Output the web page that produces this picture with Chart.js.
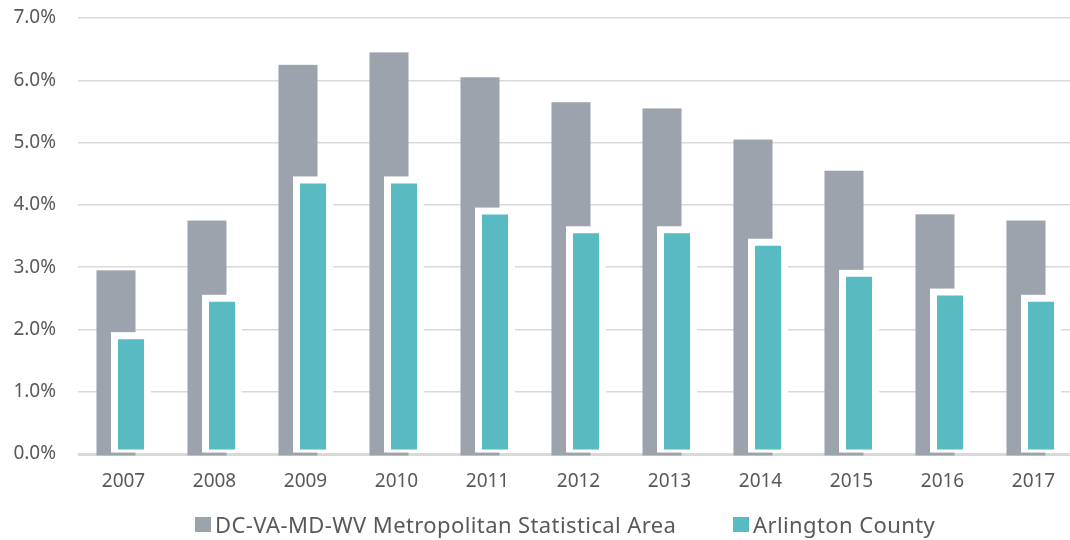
<!DOCTYPE html>
<html>
<head>
<meta charset="utf-8">
<script src="https://cdn.jsdelivr.net/npm/chart.js@4"></script>
<style>
  html, body { margin: 0; padding: 0; background: #fff; overflow: hidden; }
  #wrap { position: relative; width: 1070px; height: 540px; overflow: hidden; }
  #chart { position: absolute; left: 0; top: 0; }
  .legend-item { position: absolute; top: 509px; display: flex; align-items: center;
    font-family: "Noto Sans", sans-serif; font-size: 22px; letter-spacing: 0.4px; color: #595959; white-space: nowrap; }
  .legend-box { width: 16px; height: 15px; margin-right: 4px; }
</style>
</head>
<body>
<div id="wrap">
  <canvas id="chart" width="1080" height="540"></canvas>
  <div id="legend"></div>
</div>
<script>
// categories
let years = ['2007', '2008', '2009', '2010', '2011', '2012', '2013', '2014', '2015', '2016', '2017'];

// series values (percent)
let metroRate = [2.9, 3.7, 6.2, 6.4, 6.0, 5.6, 5.5, 5.0, 4.5, 3.8, 3.7];
let arlingtonRate = [1.9, 2.5, 4.4, 4.4, 3.9, 3.6, 3.6, 3.4, 2.9, 2.6, 2.5];

let seriesNames = ['DC-VA-MD-WV Metropolitan Statistical Area', 'Arlington County'];
let seriesColors = ['#9da3ad', '#58bbc1'];

// y tick range
let yMin = 0;
let yMax = 7;
let yStep = 1;

// Draw the datasets in index order, each with an outline drawn around its bars first
const barOutline = {
    id: 'barOutline',
    beforeDatasetsDraw(chart) {
        let ctx = chart.ctx;
        chart.data.datasets.forEach((ds, i) => {
            let meta = chart.getDatasetMeta(i);
            if (meta.hidden) return;
            let pad = ds.outlineWidth || 0;
            ctx.save();
            ctx.fillStyle = ds.outlineColor;
            meta.data.forEach(bar => {
                let p = bar.getProps(['x', 'y', 'base', 'width'], true);
                let below = ds.outlineBelow ? pad : 0;
                ctx.fillRect(p.x - p.width / 2 - pad, p.y - pad, p.width + pad * 2, p.base - p.y + pad + below);
            });
            ctx.restore();
            meta.controller.draw();
        });
        return false;
    }
};

let ctx = document.getElementById('chart').getContext('2d');
new Chart(ctx, {
    type: 'bar',
    data: {
        labels: years,
        datasets: [{
            label: seriesNames[0],
            data: metroRate,
            backgroundColor: seriesColors[0],
            borderWidth: 0,
            outlineColor: seriesColors[0],
            outlineWidth: 3,
            outlineBelow: true
        }, {
            label: seriesNames[1],
            data: arlingtonRate,
            backgroundColor: seriesColors[1],
            borderColor: '#ffffff',
            borderWidth: { top: 3.5, left: 3.5, right: 3.5, bottom: 3 },
            borderSkipped: false,
            outlineColor: '#ffffff',
            outlineWidth: 3.5,
            outlineBelow: false
        }]
    },
    options: {
        responsive: false,
        animation: false,
        categoryPercentage: 0.33,
        barPercentage: 2.2,
        layout: { padding: { top: 18, left: 12, right: 1, bottom: 47 } },
        plugins: {
            legend: { display: false },
            tooltip: { enabled: false }
        },
        scales: {
            x: {
                grid: { display: false, tickLength: 16 },
                border: { display: false },
                afterFit: s => { s.height = 39; },
                ticks: {
                    color: '#595959',
                    padding: 0,
                    font: { family: 'Noto Sans', size: 19 }
                }
            },
            y: {
                min: yMin,
                max: yMax,
                border: { display: false },
                afterFit: s => { s.width = 66; },
                grid: {
                    drawTicks: true,
                    tickLength: 22,
                    tickColor: 'rgba(0,0,0,0)',
                    color: '#d9d9d9',
                    lineWidth: c => (c.tick && c.tick.value === 0 ? 3 : 1.5)
                },
                ticks: {
                    stepSize: yStep,
                    color: '#595959',
                    padding: 0,
                    font: { family: 'Noto Sans', size: 19 },
                    callback: v => v.toFixed(1) + '%'
                }
            }
        }
    },
    plugins: [barOutline]
});

// Legend
let legendLeft = [195, 733];
let legend = document.getElementById('legend');
seriesNames.forEach((name, i) => {
    let item = document.createElement('div');
    item.className = 'legend-item';
    item.style.left = legendLeft[i] + 'px';
    item.innerHTML = `<span class="legend-box" style="background:${seriesColors[i]}"></span><span>${name}</span>`;
    legend.appendChild(item);
});
</script>
</body>
</html>
